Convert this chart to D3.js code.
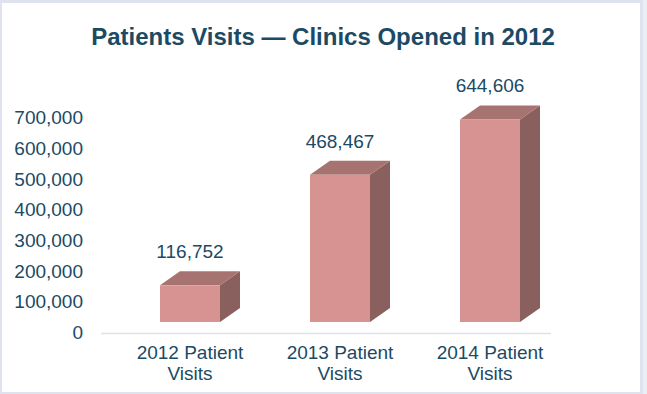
<!DOCTYPE html>
<html>
<head>
<meta charset="utf-8">
<script src="https://cdn.jsdelivr.net/npm/d3@7"></script>
<style>
  html, body { margin: 0; padding: 0; background: #ffffff; }
  svg { display: block; }
</style>
</head>
<body>
<div id="chart"></div>
<script>
// chart data
const categories = ['2012 Patient Visits', '2013 Patient Visits', '2014 Patient Visits'];
const visits = [116752, 468467, 644606];
const tickValues = [0, 100000, 200000, 300000, 400000, 500000, 600000, 700000];
const title = 'Patients Visits \u2014 Clinics Opened in 2012';

const W = 647, H = 394;
const textColor = '#1b4a64';
const frontColor = '#d79392';
const topColor = '#a67370';
const sideColor = '#8a605e';
const depth = { dx: 20, dy: 14 };

const svg = d3.select('#chart').append('svg')
  .attr('width', W)
  .attr('height', H);

// outer frame
svg.append('rect').attr('width', W).attr('height', H).attr('fill', '#dfe3ef');
svg.append('rect').attr('x', 643).attr('y', 0).attr('width', 4).attr('height', H).attr('fill', '#eceef6');
svg.append('rect').attr('x', 2).attr('y', 3).attr('width', 638).attr('height', 389).attr('fill', '#ffffff');

// title
svg.append('text')
  .attr('x', 323)
  .attr('y', 45)
  .attr('text-anchor', 'middle')
  .attr('font-family', 'Liberation Sans, Arial, sans-serif')
  .attr('font-weight', 'bold')
  .attr('font-size', 24)
  .attr('fill', textColor)
  .text(title);

// scales
const x = d3.scaleBand()
  .domain(categories)
  .range([115, 565])
  .paddingInner(0.6)
  .paddingOuter(0.3);

// axis scale (back wall) and front-face scale (perspective)
const y = d3.scaleLinear().domain([0, 700000]).range([332, 117]);
const yFront = d3.scaleLinear().domain([0, 700000]).range([322, 102]);

// y axis labels, no line
const yAxis = d3.axisLeft(y)
  .tickValues(tickValues)
  .tickFormat(d3.format(','))
  .tickSize(0)
  .tickPadding(0);

const gy = svg.append('g')
  .attr('transform', 'translate(83,0)')
  .call(yAxis);
gy.select('.domain').remove();
gy.selectAll('text')
  .attr('font-family', 'Liberation Sans, Arial, sans-serif')
  .attr('font-size', 19)
  .attr('fill', textColor)
  .attr('dy', '0.35em');

// floor line
svg.append('line')
  .attr('x1', 101).attr('x2', 551)
  .attr('y1', y(0) + 1.5).attr('y2', y(0) + 1.5)
  .attr('stroke', '#dde2ea')
  .attr('stroke-width', 1.5);

// 3D bars
const bars = svg.append('g').selectAll('g')
  .data(categories.map((c, i) => ({ cat: c, value: visits[i] })))
  .join('g');

bars.append('path')
  .attr('fill', sideColor)
  .attr('d', d => {
    const x1 = x(d.cat) + x.bandwidth(), y0 = yFront(0), y1 = yFront(d.value);
    return `M${x1},${y1}L${x1 + depth.dx},${y1 - depth.dy}L${x1 + depth.dx},${y0 - depth.dy}L${x1},${y0}Z`;
  });

bars.append('path')
  .attr('fill', topColor)
  .attr('d', d => {
    const x0 = x(d.cat), x1 = x0 + x.bandwidth(), y1 = yFront(d.value);
    return `M${x0},${y1}L${x0 + depth.dx},${y1 - depth.dy}L${x1 + depth.dx},${y1 - depth.dy}L${x1},${y1}Z`;
  });

bars.append('rect')
  .attr('fill', frontColor)
  .attr('x', d => x(d.cat))
  .attr('width', x.bandwidth())
  .attr('y', d => yFront(d.value))
  .attr('height', d => yFront(0) - yFront(d.value));

// value labels
bars.append('text')
  .attr('x', d => x(d.cat) + x.bandwidth() / 2)
  .attr('y', d => yFront(d.value) - depth.dy - 13)
  .attr('text-anchor', 'middle')
  .attr('font-family', 'Liberation Sans, Arial, sans-serif')
  .attr('font-size', 19)
  .attr('fill', textColor)
  .text(d => d3.format(',')(d.value));

// category labels, two lines
const xl = svg.append('g').selectAll('text')
  .data(categories)
  .join('text')
  .attr('x', d => x(d) + x.bandwidth() / 2)
  .attr('y', 359)
  .attr('text-anchor', 'middle')
  .attr('font-family', 'Liberation Sans, Arial, sans-serif')
  .attr('font-size', 19)
  .attr('fill', textColor);

xl.each(function(d) {
  const words = d.split(' ');
  const lines = [words.slice(0, 2).join(' '), words.slice(2).join(' ')];
  d3.select(this).selectAll('tspan')
    .data(lines)
    .join('tspan')
    .attr('x', x(d) + x.bandwidth() / 2)
    .attr('dy', (l, i) => i === 0 ? 0 : 21)
    .text(l => l);
});
</script>
</body>
</html>
